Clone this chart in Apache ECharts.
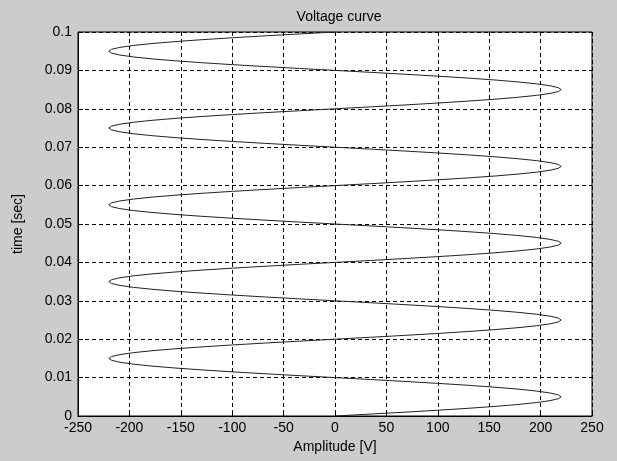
<!DOCTYPE html>
<html>
<head>
<meta charset="utf-8">
<script src="https://cdn.jsdelivr.net/npm/echarts@6/dist/echarts.min.js"></script>
<style>html,body{margin:0;padding:0;background:#cccccc;}#c{width:617px;height:461px;}</style>
</head>
<body>
<div id="c"></div>
<script>
const titleText = 'Voltage curve';
const xName = 'Amplitude [V]';
const yName = 'time [sec]';
const sampleStep = 0.0005; // seconds between samples
const amplitude = [
  0, 34.4, 68.0, 99.9, 129.3, 155.6, 178.0, 196.0, 209.2, 217.3, 220, 217.3, 209.2, 196.0, 178.0, 155.6, 129.3, 99.9, 68.0, 34.4,
  0, -34.4, -68.0, -99.9, -129.3, -155.6, -178.0, -196.0, -209.2, -217.3, -220, -217.3, -209.2, -196.0, -178.0, -155.6, -129.3, -99.9, -68.0, -34.4,
  0, 34.4, 68.0, 99.9, 129.3, 155.6, 178.0, 196.0, 209.2, 217.3, 220, 217.3, 209.2, 196.0, 178.0, 155.6, 129.3, 99.9, 68.0, 34.4,
  0, -34.4, -68.0, -99.9, -129.3, -155.6, -178.0, -196.0, -209.2, -217.3, -220, -217.3, -209.2, -196.0, -178.0, -155.6, -129.3, -99.9, -68.0, -34.4,
  0, 34.4, 68.0, 99.9, 129.3, 155.6, 178.0, 196.0, 209.2, 217.3, 220, 217.3, 209.2, 196.0, 178.0, 155.6, 129.3, 99.9, 68.0, 34.4,
  0, -34.4, -68.0, -99.9, -129.3, -155.6, -178.0, -196.0, -209.2, -217.3, -220, -217.3, -209.2, -196.0, -178.0, -155.6, -129.3, -99.9, -68.0, -34.4,
  0, 34.4, 68.0, 99.9, 129.3, 155.6, 178.0, 196.0, 209.2, 217.3, 220, 217.3, 209.2, 196.0, 178.0, 155.6, 129.3, 99.9, 68.0, 34.4,
  0, -34.4, -68.0, -99.9, -129.3, -155.6, -178.0, -196.0, -209.2, -217.3, -220, -217.3, -209.2, -196.0, -178.0, -155.6, -129.3, -99.9, -68.0, -34.4,
  0, 34.4, 68.0, 99.9, 129.3, 155.6, 178.0, 196.0, 209.2, 217.3, 220, 217.3, 209.2, 196.0, 178.0, 155.6, 129.3, 99.9, 68.0, 34.4,
  0, -34.4, -68.0, -99.9, -129.3, -155.6, -178.0, -196.0, -209.2, -217.3, -220, -217.3, -209.2, -196.0, -178.0, -155.6, -129.3, -99.9, -68.0, -34.4,
  0
];
const points = amplitude.map((v, i) => [v, +(i * sampleStep).toFixed(4)]);

const font = 'Liberation Sans, Arial, sans-serif';
const gridLine = { show: true, lineStyle: { color: '#000', type: [4, 3], width: 1 } };
const chart = echarts.init(document.getElementById('c'));
chart.setOption({
  backgroundColor: '#cccccc',
  animation: false,
  title: {
    text: titleText, left: 334, top: 5, textAlign: 'center',
    textStyle: { fontFamily: font, fontSize: 14, fontWeight: 'normal', color: '#000' }
  },
  grid: { left: 78, right: 25, top: 32, bottom: 45, show: true, backgroundColor: '#fff', borderColor: '#000', borderWidth: 1 },
  xAxis: {
    type: 'value', min: -250, max: 250, interval: 50,
    name: xName, nameLocation: 'middle', nameGap: 23,
    nameTextStyle: { fontFamily: font, fontSize: 14, color: '#000' },
    axisLine: { show: true, onZero: false, lineStyle: { color: '#000', width: 1 } },
    axisTick: { show: true, inside: true, length: 5, lineStyle: { color: '#000' } },
    axisLabel: { fontFamily: font, fontSize: 14, color: '#000', margin: 5 },
    splitLine: gridLine
  },
  yAxis: {
    type: 'value', min: 0, max: 0.1, interval: 0.01,
    name: yName, nameLocation: 'middle', nameGap: 53,
    nameTextStyle: { fontFamily: font, fontSize: 14, color: '#000' },
    axisLine: { show: true, onZero: false, lineStyle: { color: '#000', width: 1 } },
    axisTick: { show: true, inside: true, length: 5, lineStyle: { color: '#000' } },
    axisLabel: { fontFamily: font, fontSize: 14, color: '#000', margin: 6, formatter: v => String(+v.toFixed(3)) },
    splitLine: gridLine
  },
  series: [{
    type: 'line', data: points, showSymbol: false, symbol: 'none',
    lineStyle: { color: '#222', width: 1 }, clip: true
  }]
});
</script>
</body>
</html>
